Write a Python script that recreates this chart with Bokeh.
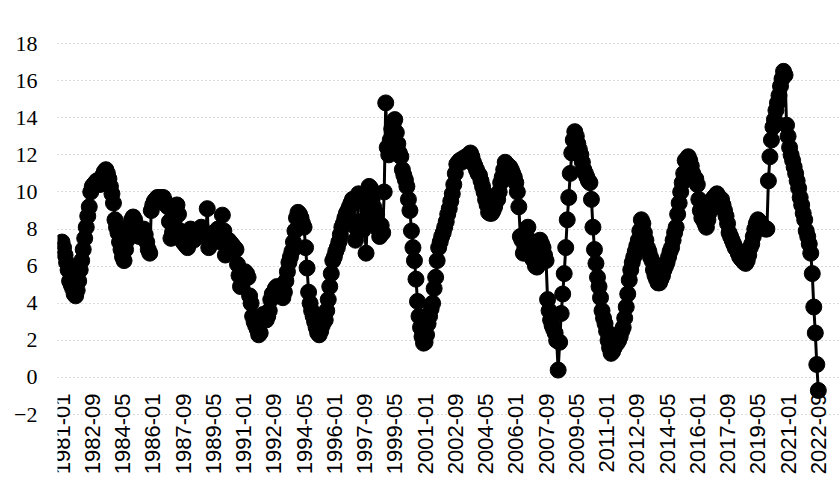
import math
from bokeh.plotting import figure
from bokeh.models import Range1d, FixedTicker, ColumnDataSource
from bokeh.embed import file_html
from bokeh.resources import INLINE

# ---- data: monthly values, 1981-01 .. 2022-09 ----
first_year = 1981
v1981 = [7.3, 7.0, 6.6, 6.2, 5.8, 5.2, 5.0, 4.8, 4.5, 4.4, 4.7, 5.2]
v1982 = [5.8, 6.3, 6.9, 7.5, 8.1, 8.7, 9.2, 10.0, 10.3, 10.4, 10.5, 10.6]
v1983 = [10.5, 10.4, 10.6, 10.9, 11.1, 11.2, 11.0, 10.7, 10.3, 9.9, 9.4, 8.5]
v1984 = [8.1, 7.8, 7.3, 6.9, 6.5, 6.3, 6.9, 7.4, 7.8, 8.2, 8.5, 8.65]
v1985 = [8.5, 8.2, 7.8, 7.6, 7.7, 7.9, 8.0, 7.7, 7.3, 6.9, 6.7, 9.0]
v1986 = [9.3, 9.5, 9.6, 9.7, 9.7, 9.6, 9.7, 9.7, 9.5, 9.3, 9.2, 8.4]
v1987 = [7.5, 7.8, 8.4, 9.0, 9.3, 8.8, 7.9, 7.5, 7.3, 7.2, 7.1, 7.0]
v1988 = [7.5, 8.0, 7.6, 7.4, 7.5, 7.6, 7.8, 7.9, 8.1, 7.9, 7.7, 7.6]
v1989 = [9.1, 7.0, 7.3, 7.5, 7.6, 7.8, 7.9, 8.0, 7.7, 7.3, 8.75, 7.9]
v1990 = [6.6, 7.2, 7.4, 7.3, 7.2, 7.1, 7.0, 6.9, 6.1, 5.5, 4.9, 5.1]
v1991 = [5.5, 5.7, 5.6, 5.4, 4.4, 4.0, 3.3, 3.0, 2.8, 2.6, 2.3, 2.4]
v1992 = [3.0, 3.4, 3.3, 3.1, 3.3, 3.6, 4.2, 4.5, 4.6, 4.8, 4.9, 4.8]
v1993 = [4.6, 4.4, 4.3, 4.6, 5.2, 5.7, 6.2, 6.5, 6.8, 7.3, 7.9, 8.6]
v1994 = [8.9, 8.8, 8.6, 8.3, 8.1, 7.0, 5.9, 4.6, 4.0, 3.6, 3.3, 3.0]
v1995 = [2.7, 2.4, 2.3, 2.5, 2.8, 3.0, 3.1, 3.6, 4.2, 4.9, 5.6, 6.3]
v1996 = [6.5, 6.8, 7.0, 7.3, 7.7, 8.1, 8.3, 8.6, 8.85, 9.0, 9.2, 9.4]
v1997 = [9.6, 8.4, 7.4, 8.0, 9.9, 9.7, 9.5, 7.95, 8.5, 6.7, 9.0, 10.3]
v1998 = [10.2, 9.6, 9.2, 8.4, 8.8, 8.0, 7.6, 8.2, 7.8, 10.0, 14.8, 12.4]
v1999 = [12.0, 12.8, 13.4, 13.7, 13.9, 13.2, 12.6, 12.1, 11.9, 11.2, 10.9, 10.65]
v2000 = [10.3, 9.6, 9.0, 7.9, 7.0, 6.3, 5.3, 4.1, 3.3, 2.7, 2.2, 1.85]
v2001 = [1.9, 2.3, 2.9, 3.3, 3.7, 4.0, 4.8, 5.4, 6.3, 7.0, 7.3, 7.6]
v2002 = [7.8, 8.1, 8.4, 8.8, 9.1, 9.5, 9.9, 10.4, 11.0, 11.5, 11.6, 11.7]
v2003 = [11.6, 11.8, 11.7, 11.9, 11.9, 12.0, 12.1, 11.9, 11.6, 11.4, 11.2, 11.0]
v2004 = [10.9, 10.6, 10.3, 10.0, 9.6, 9.3, 8.9, 8.85, 8.85, 9.0, 9.2, 9.5]
v2005 = [9.6, 10.0, 10.5, 10.8, 11.2, 11.6, 11.5, 11.4, 11.35, 11.2, 11.0, 10.8]
v2006 = [10.5, 10.0, 9.2, 7.6, 7.4, 6.7, 7.0, 7.5, 8.1, 7.4, 6.7, 6.4]
v2007 = [6.3, 6.0, 5.95, 6.6, 7.4, 7.2, 7.0, 6.6, 6.3, 4.2, 3.6, 3.1]
v2008 = [2.8, 2.6, 2.4, 2.0, 0.4, 1.9, 3.45, 4.5, 5.6, 7.0, 8.5, 9.7]
v2009 = [11.0, 12.1, 12.8, 13.25, 13.0, 12.6, 12.3, 12.0, 11.6, 11.2, 11.0, 10.8]
v2010 = [10.6, 10.5, 9.6, 8.1, 6.9, 6.15, 5.4, 4.9, 4.3, 3.6, 3.2, 2.9]
v2011 = [2.5, 2.0, 1.6, 1.3, 1.4, 1.6, 1.8, 1.85, 2.0, 2.2, 2.5, 2.7]
v2012 = [3.2, 3.8, 4.5, 5.25, 5.8, 6.2, 6.5, 6.8, 7.1, 7.4, 7.9, 8.5]
v2013 = [8.3, 7.8, 7.4, 7.0, 6.8, 6.5, 6.3, 5.8, 5.5, 5.3, 5.1, 5.1]
v2014 = [5.3, 5.5, 5.8, 6.0, 6.2, 6.5, 6.8, 7.0, 7.4, 7.8, 8.1, 8.8]
v2015 = [9.4, 10.0, 10.5, 11.0, 11.7, 11.6, 11.9, 11.7, 11.4, 11.0, 10.8, 10.7]
v2016 = [10.4, 9.6, 9.0, 8.6, 8.5, 8.3, 8.1, 8.5, 8.9, 9.3, 9.6, 9.7]
v2017 = [9.8, 9.9, 9.7, 9.6, 9.6, 9.3, 9.0, 8.7, 8.3, 7.8, 7.6, 7.4]
v2018 = [7.2, 7.0, 6.9, 6.7, 6.5, 6.4, 6.3, 6.2, 6.15, 6.3, 6.6, 7.0]
v2019 = [7.2, 7.6, 8.0, 8.3, 8.5, 8.4, 8.3, 8.2, 8.1, 8.0, 8.0, 10.6]
v2020 = [11.9, 12.8, 13.5, 13.9, 14.4, 14.8, 15.2, 15.7, 16.1, 16.5, 16.3, 13.6]
v2021 = [13.0, 12.4, 12.0, 11.7, 11.35, 11.0, 10.6, 10.2, 9.7, 9.3, 8.85, 8.5]
v2022 = [7.9, 7.6, 7.2, 6.7, 5.6, 3.8, 2.4, 0.7, -0.7]

yearly = [v1981, v1982, v1983, v1984, v1985, v1986, v1987, v1988, v1989, v1990,
          v1991, v1992, v1993, v1994, v1995, v1996, v1997, v1998, v1999, v2000,
          v2001, v2002, v2003, v2004, v2005, v2006, v2007, v2008, v2009, v2010,
          v2011, v2012, v2013, v2014, v2015, v2016, v2017, v2018, v2019, v2020,
          v2021, v2022]

tick_labels = ["1981-01", "1982-09", "1984-05", "1986-01", "1987-09", "1989-05",
               "1991-01", "1992-09", "1994-05", "1996-01", "1997-09", "1999-05",
               "2001-01", "2002-09", "2004-05", "2006-01", "2007-09", "2009-05",
               "2011-01", "2012-09", "2014-05", "2016-01", "2017-09", "2019-05",
               "2021-01", "2022-09"]
y_ticks = [-2, 0, 2, 4, 6, 8, 10, 12, 14, 16, 18]

# ---- build series ----
values = [v for yr in yearly for v in yr]
months = [f"{first_year + i // 12}-{i % 12 + 1:02d}" for i in range(len(values))]
idx = list(range(len(values)))
src = ColumnDataSource(data=dict(x=idx, y=values, month=months))

tick_pos = [months.index(t) for t in tick_labels]

p = figure(width=839, height=482, output_backend="svg", toolbar_location=None,
           x_range=Range1d(-3.0, 514.0), y_range=Range1d(-5.66, 20.32),
           min_border_left=57, min_border_right=0, min_border_top=0,
           min_border_bottom=0)
p.outline_line_color = None
p.background_fill_color = "white"
p.border_fill_color = "white"

p.line("x", "y", source=src, line_color="black", line_width=3)
p.scatter("x", "y", source=src, size=16, fill_color="black", line_color="black")

# x axis sits at value 0
xa = p.xaxis[0]
xa.fixed_location = 0
xa.ticker = FixedTicker(ticks=tick_pos)
xa.major_label_overrides = {pos: lab for pos, lab in zip(tick_pos, tick_labels)}
xa.major_label_orientation = math.pi / 2
xa.axis_line_color = None
xa.major_tick_line_color = None
xa.minor_tick_line_color = None
xa.major_tick_in = 0
xa.major_tick_out = 0
xa.major_label_standoff = 16
xa.major_label_text_font = "Liberation Sans"
xa.major_label_text_font_size = "22px"
xa.major_label_text_color = "black"

ya = p.yaxis[0]
ya.ticker = FixedTicker(ticks=y_ticks)
ya.axis_line_color = None
ya.major_tick_line_color = None
ya.minor_tick_line_color = None
ya.major_tick_in = 0
ya.major_tick_out = 0
ya.major_label_standoff = 20
ya.major_label_text_font = "Liberation Serif"
ya.major_label_text_font_size = "22px"
ya.major_label_text_color = "black"

p.xgrid.grid_line_color = None
p.ygrid.ticker = FixedTicker(ticks=y_ticks)
p.ygrid.grid_line_color = "#b5b5b5"
p.ygrid.grid_line_dash = "1 3"
p.ygrid.grid_line_width = 1

open("out.html", "w").write(file_html(p, INLINE))
